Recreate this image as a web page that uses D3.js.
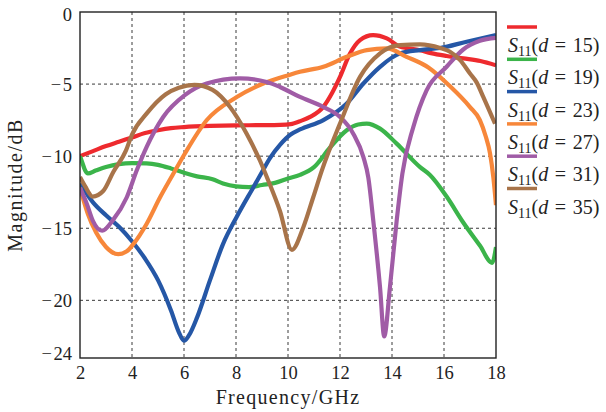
<!DOCTYPE html>
<html>
<head>
<meta charset="utf-8">
<script src="https://cdn.jsdelivr.net/npm/d3@7"></script>
<style>
body { margin: 0; background: #fff; }
svg { display: block; }
text { font-family: "Liberation Serif", "Times New Roman", serif; }
.grid line { stroke: #3a3a3a; stroke-width: 1; stroke-dasharray: 3,3; }
.frame { fill: none; stroke: #222; stroke-width: 1.4; }
.line { fill: none; stroke-width: 4.2; stroke-linejoin: round; }
.tick text { font-size: 18.5px; fill: #222; }
</style>
</head>
<body>
<div id="chart"></div>
<script>
/* Data: [frequency GHz, S11 dB] */
var s11_d15 = [[2,-10],[2.5,-9.65],[3,-9.3],[3.5,-9.0],[4,-8.7],[4.5,-8.4],[5,-8.2],[5.5,-8.05],[6,-7.98],
    [7,-7.9],[8,-7.86],[9,-7.85],[9.7,-7.83],[10.1,-7.78],[10.5,-7.55],[10.85,-7.28],[11.35,-6.6],[11.7,-5.6],
    [12,-4.5],[12.38,-2.9],[12.77,-1.95],[13.27,-1.6],[13.8,-1.83],[14.3,-2.4],[15.08,-2.65],[15.5,-2.85],
    [16.1,-3.05],[16.74,-3.22],[17.4,-3.4],[18,-3.7]];
var s11_d19 = [[2,-10],[2.08,-10.4],[2.2,-11.0],[2.3,-11.2],[2.6,-11.0],[3,-10.75],[3.5,-10.55],[4,-10.48],
    [4.56,-10.5],[5,-10.6],[5.5,-10.85],[6,-11.15],[6.5,-11.4],[7.1,-11.6],[7.5,-11.9],[8,-12.1],[8.5,-12.15],
    [9,-12.0],[9.5,-11.85],[10,-11.55],[10.46,-11.3],[11,-10.76],[11.62,-9.4],[12.26,-8.2],[12.7,-7.8],
    [13.03,-7.74],[13.54,-8.09],[14.18,-9.13],[15.08,-10.76],[15.46,-11.3],[16.1,-12.8],[16.74,-14.6],
    [17.38,-16.2],[17.85,-17.4],[18,-16.3]];
var s11_d23 = [[2,-11.9],[2.5,-13.2],[3,-14.1],[3.5,-14.9],[4,-15.9],[4.5,-17.1],[5,-18.6],[5.5,-20.7],
    [5.8,-22.2],[6,-22.8],[6.2,-22.4],[6.5,-21.2],[7,-18.6],[7.5,-16.1],[8.03,-14.2],[8.67,-12.15],[9,-11.1],
    [9.3,-10.15],[9.7,-9.2],[10.1,-8.5],[10.46,-8.15],[11.36,-7.5],[12.26,-6.35],[12.9,-4.96],[13.54,-3.8],
    [14.31,-2.87],[15.08,-2.64],[15.85,-2.5],[16.87,-2.06],[18,-1.6]];
var s11_d27 = [[2,-12.2],[2.3,-14.0],[2.62,-15.3],[3,-16.3],[3.47,-16.8],[3.8,-16.6],[4.05,-16.1],[4.56,-14.7],
    [5.08,-12.85],[5.5,-11.5],[6.03,-9.83],[6.87,-7.51],[8.03,-5.9],[9.05,-4.96],[10.08,-4.35],[10.46,-4.15],
    [11.36,-3.8],[12.26,-3.11],[13.03,-2.64],[13.8,-2.53],[14.56,-3.11],[15.4,-3.85],[16.2,-5.1],[17,-6.6],
    [17.38,-7.5],[17.6,-8.6],[17.77,-9.8],[17.9,-11.5],[18,-13.4]];
var s11_d31 = [[2,-12.2],[2.26,-13.3],[2.5,-14.5],[2.85,-15.17],[3.28,-14.4],[3.8,-12.85],[4.18,-11.0],
    [4.56,-9.37],[5.2,-7.28],[6.03,-5.77],[6.87,-4.96],[8.15,-4.6],[9.18,-4.85],[9.69,-5.2],[10.46,-5.89],
    [11.36,-6.59],[12,-7.28],[12.51,-8.44],[12.9,-10.07],[13.09,-11.5],[13.28,-14.47],[13.54,-19.1],
    [13.7,-22.5],[13.92,-19.1],[14.18,-14.47],[14.4,-11.2],[14.82,-7.98],[15.33,-5.43],[16.1,-3.8],
    [16.74,-2.6],[17.38,-2.0],[18,-1.8]];
var s11_d35 = [[2,-11.45],[2.2,-12.1],[2.49,-12.8],[2.9,-12.4],[3.28,-11.1],[3.77,-9.6],[4,-8.5],[4.56,-7.05],
    [5.3,-5.7],[5.8,-5.25],[6.4,-5.05],[7.1,-5.4],[7.77,-6.59],[8.41,-8.44],[8.92,-10.3],[9.24,-11.69],
    [9.69,-13.8],[10.15,-16.5],[10.59,-14.93],[10.97,-12.85],[11.3,-11.0],[12,-7.74],[12.77,-4.5],[13.54,-2.87],
    [14.31,-2.3],[15.08,-2.25],[15.85,-2.5],[16.23,-2.76],[16.62,-3.34],[17,-4.27],[17.26,-4.9],[17.51,-5.89],
    [17.96,-7.74]];

var seriesData  = [s11_d15, s11_d19, s11_d23, s11_d27, s11_d31, s11_d35];
var seriesD     = ["15", "19", "23", "27", "31", "35"];
var seriesColor = ["#ee2a2e", "#3bb44a", "#2557a6", "#f7873a", "#a05ca6", "#a8744a"];

var xTicks = [2, 4, 6, 8, 10, 12, 14, 16, 18];
var yTicks = [0, -5, -10, -15, -20, -24];

var WIDTH = 606, HEIGHT = 412;
var MARGINS = {top: 12, right: 110, bottom: 54, left: 80};

/**
 * Draws the S11 chart
 *
 * @param {Element} element
 */
function drawChart(element){
    var width  = WIDTH - MARGINS.left - MARGINS.right,
        height = HEIGHT - MARGINS.top - MARGINS.bottom;

    var svg = d3.select(element)
        .append("svg")
            .attr("width", WIDTH)
            .attr("height", HEIGHT);

    var main = svg.append("g")
        .attr("transform", "translate(" + MARGINS.left + "," + MARGINS.top + ")");

    /* Scales */
    var x = d3.scaleLinear().domain([2, 18]).range([0, width]);
    var y = d3.scaleLinear().domain([-24, 0]).range([height, 0]);

    /* Grid */
    var grid = main.append("g").attr("class", "grid");
    grid.selectAll(".vgrid")
        .data(xTicks.slice(1, -1))
        .enter()
        .append("line")
            .attr("x1", function(d){ return x(d); })
            .attr("x2", function(d){ return x(d); })
            .attr("y1", 0)
            .attr("y2", height);
    grid.selectAll(".hgrid")
        .data(yTicks.slice(1, -1))
        .enter()
        .append("line")
            .attr("x1", 0)
            .attr("x2", width)
            .attr("y1", function(d){ return y(d); })
            .attr("y2", function(d){ return y(d); });

    /* Lines */
    main.append("clipPath")
        .attr("id", "clip")
        .append("rect")
            .attr("width", width)
            .attr("height", height);

    var line = d3.line()
        .curve(d3.curveMonotoneX)
        .x(function(d){ return x(d[0]); })
        .y(function(d){ return y(d[1]); });

    main.append("g")
        .attr("clip-path", "url(#clip)")
        .selectAll(".line")
        .data(seriesData)
        .enter()
        .append("path")
            .attr("class", "line")
            .attr("stroke", function(d, i){ return seriesColor[i]; })
            .attr("d", line);

    /* Frame */
    main.append("rect")
        .attr("class", "frame")
        .attr("width", width)
        .attr("height", height);

    /* Axis */
    var xAxis = d3.axisBottom(x)
        .tickValues(xTicks)
        .tickSize(0)
        .tickPadding(8);
    var yAxis = d3.axisLeft(y)
        .tickValues(yTicks)
        .tickSize(0)
        .tickPadding(8)
        .tickFormat(function(d){ return d < 0 ? "\u2212\u200a" + Math.abs(d) : d; });

    var gx = main.append("g")
        .attr("transform", "translate(0," + height + ")")
        .call(xAxis);
    var gy = main.append("g").call(yAxis);
    gx.select(".domain").remove();
    gy.select(".domain").remove();
    gx.attr("font-family", null).attr("font-size", null);
    gy.attr("font-family", null).attr("font-size", null);
    // extreme y labels are nudged inside like in the original
    gy.selectAll(".tick text")
        .attr("dy", function(d){ return d === 0 ? "0.45em" : (d === -24 ? "0.08em" : "0.32em"); });

    /* Axis titles */
    svg.append("text")
        .attr("x", MARGINS.left + width / 2)
        .attr("y", 404)
        .attr("text-anchor", "middle")
        .attr("font-size", 20)
        .attr("letter-spacing", 1.3)
        .attr("fill", "#222")
        .text("Frequency/GHz");
    svg.append("text")
        .attr("transform", "translate(22," + (MARGINS.top + height / 2) + ") rotate(-90)")
        .attr("text-anchor", "middle")
        .attr("font-size", 20)
        .attr("letter-spacing", 1.5)
        .attr("fill", "#222")
        .text("Magnitude/dB");

    /* Legend */
    var legend = svg.append("g")
        .attr("transform", "translate(507,27)");
    var item = legend.selectAll(".item")
        .data(seriesD)
        .enter()
        .append("g")
            .attr("transform", function(d, i){ return "translate(0," + (i * 32.3) + ")"; });
    item.append("line")
        .attr("x1", 0)
        .attr("x2", 30)
        .attr("stroke", function(d, i){ return seriesColor[i]; })
        .attr("stroke-width", 3.5);
    var label = item.append("text")
        .attr("x", 1)
        .attr("y", 25)
        .attr("font-size", 20)
        .attr("fill", "#222");
    label.append("tspan").attr("font-style", "italic").text("S");
    label.append("tspan").attr("font-size", 14).attr("dy", 4).text("11");
    label.append("tspan").attr("dy", -4).text("(");
    label.append("tspan").attr("font-style", "italic").text("d");
    label.append("tspan").text(function(d){ return "\u2004=\u2004" + d + ")"; });
}

drawChart(document.getElementById("chart"));
</script>
</body>
</html>
